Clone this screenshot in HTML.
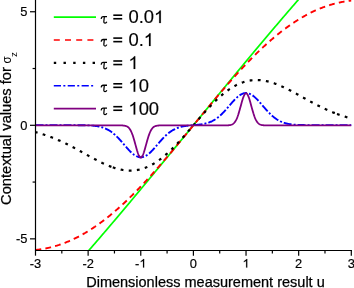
<!DOCTYPE html>
<html><head><meta charset="utf-8"><style>
html,body{margin:0;padding:0;background:#fff;}
body{width:354px;height:288px;overflow:hidden;font-family:"Liberation Sans",sans-serif;}
svg{display:block;will-change:transform;}
text{font-family:"Liberation Sans",sans-serif;fill:#000;}
.ser{font-family:"Liberation Serif",serif;}
</style></head><body>
<svg width="354" height="288" viewBox="0 0 354 288">
<rect width="354" height="288" fill="#fff"/>
<defs><clipPath id="c"><rect x="35.5" y="0" width="316.3" height="250.9"/></clipPath></defs>
<g clip-path="url(#c)" fill="none" stroke-width="2">
<path d="M35.50,309.55 L36.03,308.99 L36.55,308.43 L37.08,307.87 L37.61,307.31 L38.13,306.75 L38.66,306.18 L39.18,305.62 L39.71,305.06 L40.24,304.50 L40.76,303.93 L41.29,303.37 L41.82,302.80 L42.34,302.24 L42.87,301.67 L43.39,301.10 L43.92,300.54 L44.45,299.97 L44.97,299.40 L45.50,298.83 L46.03,298.26 L46.55,297.69 L47.08,297.12 L47.61,296.55 L48.13,295.98 L48.66,295.41 L49.18,294.84 L49.71,294.26 L50.24,293.69 L50.76,293.12 L51.29,292.54 L51.82,291.97 L52.34,291.39 L52.87,290.82 L53.40,290.24 L53.92,289.66 L54.45,289.09 L54.97,288.51 L55.50,287.93 L56.03,287.35 L56.55,286.77 L57.08,286.19 L57.61,285.61 L58.13,285.03 L58.66,284.45 L59.19,283.87 L59.71,283.29 L60.24,282.71 L60.76,282.13 L61.29,281.54 L61.82,280.96 L62.34,280.37 L62.87,279.79 L63.40,279.21 L63.92,278.62 L64.45,278.03 L64.97,277.45 L65.50,276.86 L66.03,276.27 L66.55,275.69 L67.08,275.10 L67.61,274.51 L68.13,273.92 L68.66,273.33 L69.19,272.74 L69.71,272.15 L70.24,271.56 L70.76,270.97 L71.29,270.38 L71.82,269.79 L72.34,269.19 L72.87,268.60 L73.40,268.01 L73.92,267.41 L74.45,266.82 L74.97,266.22 L75.50,265.63 L76.03,265.03 L76.55,264.44 L77.08,263.84 L77.61,263.25 L78.13,262.65 L78.66,262.05 L79.19,261.45 L79.71,260.86 L80.24,260.26 L80.76,259.66 L81.29,259.06 L81.82,258.46 L82.34,257.86 L82.87,257.26 L83.40,256.66 L83.92,256.06 L84.45,255.45 L84.98,254.85 L85.50,254.25 L86.03,253.65 L86.55,253.04 L87.08,252.44 L87.61,251.84 L88.13,251.23 L88.66,250.63 L89.19,250.02 L89.71,249.42 L90.24,248.81 L90.77,248.20 L91.29,247.60 L91.82,246.99 L92.34,246.38 L92.87,245.78 L93.40,245.17 L93.92,244.56 L94.45,243.95 L94.98,243.34 L95.50,242.73 L96.03,242.12 L96.55,241.51 L97.08,240.90 L97.61,240.29 L98.13,239.68 L98.66,239.07 L99.19,238.46 L99.71,237.84 L100.24,237.23 L100.77,236.62 L101.29,236.01 L101.82,235.39 L102.34,234.78 L102.87,234.16 L103.40,233.55 L103.92,232.94 L104.45,232.32 L104.98,231.70 L105.50,231.09 L106.03,230.47 L106.56,229.86 L107.08,229.24 L107.61,228.62 L108.13,228.01 L108.66,227.39 L109.19,226.77 L109.71,226.15 L110.24,225.53 L110.77,224.92 L111.29,224.30 L111.82,223.68 L112.34,223.06 L112.87,222.44 L113.40,221.82 L113.92,221.20 L114.45,220.58 L114.98,219.95 L115.50,219.33 L116.03,218.71 L116.56,218.09 L117.08,217.47 L117.61,216.85 L118.13,216.22 L118.66,215.60 L119.19,214.98 L119.71,214.35 L120.24,213.73 L120.77,213.10 L121.29,212.48 L121.82,211.86 L122.35,211.23 L122.87,210.61 L123.40,209.98 L123.92,209.35 L124.45,208.73 L124.98,208.10 L125.50,207.48 L126.03,206.85 L126.56,206.22 L127.08,205.60 L127.61,204.97 L128.13,204.34 L128.66,203.71 L129.19,203.09 L129.71,202.46 L130.24,201.83 L130.77,201.20 L131.29,200.57 L131.82,199.94 L132.35,199.31 L132.87,198.68 L133.40,198.05 L133.92,197.42 L134.45,196.79 L134.98,196.16 L135.50,195.53 L136.03,194.90 L136.56,194.27 L137.08,193.64 L137.61,193.01 L138.13,192.38 L138.66,191.74 L139.19,191.11 L139.71,190.48 L140.24,189.85 L140.77,189.21 L141.29,188.58 L141.82,187.95 L142.35,187.31 L142.87,186.68 L143.40,186.05 L143.92,185.41 L144.45,184.78 L144.98,184.15 L145.50,183.51 L146.03,182.88 L146.56,182.24 L147.08,181.61 L147.61,180.97 L148.14,180.34 L148.66,179.70 L149.19,179.07 L149.71,178.43 L150.24,177.80 L150.77,177.16 L151.29,176.52 L151.82,175.89 L152.35,175.25 L152.87,174.61 L153.40,173.98 L153.93,173.34 L154.45,172.70 L154.98,172.07 L155.50,171.43 L156.03,170.79 L156.56,170.15 L157.08,169.52 L157.61,168.88 L158.14,168.24 L158.66,167.60 L159.19,166.96 L159.71,166.33 L160.24,165.69 L160.77,165.05 L161.29,164.41 L161.82,163.77 L162.35,163.13 L162.87,162.49 L163.40,161.85 L163.93,161.21 L164.45,160.58 L164.98,159.94 L165.50,159.30 L166.03,158.66 L166.56,158.02 L167.08,157.38 L167.61,156.74 L168.14,156.10 L168.66,155.46 L169.19,154.82 L169.72,154.18 L170.24,153.54 L170.77,152.89 L171.29,152.25 L171.82,151.61 L172.35,150.97 L172.87,150.33 L173.40,149.69 L173.93,149.05 L174.45,148.41 L174.98,147.77 L175.50,147.13 L176.03,146.49 L176.56,145.84 L177.08,145.20 L177.61,144.56 L178.14,143.92 L178.66,143.28 L179.19,142.64 L179.72,142.00 L180.24,141.35 L180.77,140.71 L181.29,140.07 L181.82,139.43 L182.35,138.79 L182.87,138.14 L183.40,137.50 L183.93,136.86 L184.45,136.22 L184.98,135.58 L185.50,134.93 L186.03,134.29 L186.56,133.65 L187.08,133.01 L187.61,132.37 L188.14,131.72 L188.66,131.08 L189.19,130.44 L189.72,129.80 L190.24,129.15 L190.77,128.51 L191.29,127.87 L191.82,127.23 L192.35,126.58 L192.87,125.94 L193.40,125.30 L193.93,124.66 L194.45,124.02 L194.98,123.37 L195.51,122.73 L196.03,122.09 L196.56,121.45 L197.08,120.80 L197.61,120.16 L198.14,119.52 L198.66,118.88 L199.19,118.23 L199.72,117.59 L200.24,116.95 L200.77,116.31 L201.29,115.67 L201.82,115.02 L202.35,114.38 L202.87,113.74 L203.40,113.10 L203.93,112.46 L204.45,111.81 L204.98,111.17 L205.51,110.53 L206.03,109.89 L206.56,109.25 L207.08,108.60 L207.61,107.96 L208.14,107.32 L208.66,106.68 L209.19,106.04 L209.72,105.40 L210.24,104.76 L210.77,104.11 L211.30,103.47 L211.82,102.83 L212.35,102.19 L212.87,101.55 L213.40,100.91 L213.93,100.27 L214.45,99.63 L214.98,98.99 L215.51,98.35 L216.03,97.71 L216.56,97.06 L217.09,96.42 L217.61,95.78 L218.14,95.14 L218.66,94.50 L219.19,93.86 L219.72,93.22 L220.24,92.58 L220.77,91.94 L221.30,91.30 L221.82,90.66 L222.35,90.02 L222.87,89.39 L223.40,88.75 L223.93,88.11 L224.45,87.47 L224.98,86.83 L225.51,86.19 L226.03,85.55 L226.56,84.91 L227.09,84.27 L227.61,83.64 L228.14,83.00 L228.66,82.36 L229.19,81.72 L229.72,81.08 L230.24,80.45 L230.77,79.81 L231.30,79.17 L231.82,78.53 L232.35,77.90 L232.88,77.26 L233.40,76.62 L233.93,75.99 L234.45,75.35 L234.98,74.71 L235.51,74.08 L236.03,73.44 L236.56,72.80 L237.09,72.17 L237.61,71.53 L238.14,70.90 L238.66,70.26 L239.19,69.63 L239.72,68.99 L240.24,68.36 L240.77,67.72 L241.30,67.09 L241.82,66.45 L242.35,65.82 L242.88,65.19 L243.40,64.55 L243.93,63.92 L244.45,63.29 L244.98,62.65 L245.51,62.02 L246.03,61.39 L246.56,60.75 L247.09,60.12 L247.61,59.49 L248.14,58.86 L248.66,58.22 L249.19,57.59 L249.72,56.96 L250.24,56.33 L250.77,55.70 L251.30,55.07 L251.82,54.44 L252.35,53.81 L252.88,53.18 L253.40,52.55 L253.93,51.92 L254.45,51.29 L254.98,50.66 L255.51,50.03 L256.03,49.40 L256.56,48.77 L257.09,48.14 L257.61,47.51 L258.14,46.89 L258.67,46.26 L259.19,45.63 L259.72,45.00 L260.24,44.38 L260.77,43.75 L261.30,43.12 L261.82,42.50 L262.35,41.87 L262.88,41.25 L263.40,40.62 L263.93,39.99 L264.46,39.37 L264.98,38.74 L265.51,38.12 L266.03,37.50 L266.56,36.87 L267.09,36.25 L267.61,35.62 L268.14,35.00 L268.67,34.38 L269.19,33.75 L269.72,33.13 L270.24,32.51 L270.77,31.89 L271.30,31.27 L271.82,30.65 L272.35,30.02 L272.88,29.40 L273.40,28.78 L273.93,28.16 L274.46,27.54 L274.98,26.92 L275.51,26.30 L276.03,25.68 L276.56,25.07 L277.09,24.45 L277.61,23.83 L278.14,23.21 L278.67,22.59 L279.19,21.98 L279.72,21.36 L280.25,20.74 L280.77,20.13 L281.30,19.51 L281.82,18.90 L282.35,18.28 L282.88,17.66 L283.40,17.05 L283.93,16.44 L284.46,15.82 L284.98,15.21 L285.51,14.59 L286.03,13.98 L286.56,13.37 L287.09,12.76 L287.61,12.14 L288.14,11.53 L288.67,10.92 L289.19,10.31 L289.72,9.70 L290.25,9.09 L290.77,8.48 L291.30,7.87 L291.82,7.26 L292.35,6.65 L292.88,6.04 L293.40,5.43 L293.93,4.82 L294.46,4.22 L294.98,3.61 L295.51,3.00 L296.04,2.40 L296.56,1.79 L297.09,1.18 L297.61,0.58 L298.14,-0.03 L298.67,-0.63 L299.19,-1.24 L299.72,-1.84 L300.25,-2.44 L300.77,-3.05 L301.30,-3.65 L301.82,-4.25 L302.35,-4.85 L302.88,-5.46 L303.40,-6.06 L303.93,-6.66 L304.46,-7.26 L304.98,-7.86 L305.51,-8.46 L306.04,-9.06 L306.56,-9.66 L307.09,-10.26 L307.61,-10.85 L308.14,-11.45 L308.67,-12.05 L309.19,-12.65 L309.72,-13.24 L310.25,-13.84 L310.77,-14.43 L311.30,-15.03 L311.82,-15.62 L312.35,-16.22 L312.88,-16.81 L313.40,-17.41 L313.93,-18.00 L314.46,-18.59 L314.98,-19.19 L315.51,-19.78 L316.04,-20.37 L316.56,-20.96 L317.09,-21.55 L317.61,-22.14 L318.14,-22.73 L318.67,-23.32 L319.19,-23.91 L319.72,-24.50 L320.25,-25.09 L320.77,-25.67 L321.30,-26.26 L321.83,-26.85 L322.35,-27.43 L322.88,-28.02 L323.40,-28.61 L323.93,-29.19 L324.46,-29.77 L324.98,-30.36 L325.51,-30.94 L326.04,-31.53 L326.56,-32.11 L327.09,-32.69 L327.62,-33.27 L328.14,-33.85 L328.67,-34.43 L329.19,-35.01 L329.72,-35.59 L330.25,-36.17 L330.77,-36.75 L331.30,-37.33 L331.83,-37.91 L332.35,-38.49 L332.88,-39.06 L333.40,-39.64 L333.93,-40.22 L334.46,-40.79 L334.98,-41.37 L335.51,-41.94 L336.04,-42.52 L336.56,-43.09 L337.09,-43.66 L337.62,-44.24 L338.14,-44.81 L338.67,-45.38 L339.19,-45.95 L339.72,-46.52 L340.25,-47.09 L340.77,-47.66 L341.30,-48.23 L341.83,-48.80 L342.35,-49.37 L342.88,-49.94 L343.41,-50.50 L343.93,-51.07 L344.46,-51.64 L344.98,-52.20 L345.51,-52.77 L346.04,-53.33 L346.56,-53.90 L347.09,-54.46 L347.62,-55.02 L348.14,-55.58 L348.67,-56.15 L349.19,-56.71 L349.72,-57.27 L350.25,-57.83 L350.77,-58.39 L351.30,-58.95" stroke="#00ff00" stroke-width="1.7"/>
<path d="M35.50,249.97 L36.03,249.92 L36.55,249.86 L37.08,249.80 L37.61,249.73 L38.13,249.67 L38.66,249.60 L39.18,249.53 L39.71,249.46 L40.24,249.38 L40.76,249.30 L41.29,249.22 L41.82,249.14 L42.34,249.05 L42.87,248.96 L43.39,248.87 L43.92,248.78 L44.45,248.68 L44.97,248.58 L45.50,248.48 L46.03,248.37 L46.55,248.26 L47.08,248.15 L47.61,248.04 L48.13,247.92 L48.66,247.81 L49.18,247.68 L49.71,247.56 L50.24,247.43 L50.76,247.31 L51.29,247.17 L51.82,247.04 L52.34,246.90 L52.87,246.76 L53.40,246.62 L53.92,246.47 L54.45,246.33 L54.97,246.17 L55.50,246.02 L56.03,245.86 L56.55,245.71 L57.08,245.54 L57.61,245.38 L58.13,245.21 L58.66,245.04 L59.19,244.87 L59.71,244.69 L60.24,244.52 L60.76,244.33 L61.29,244.15 L61.82,243.96 L62.34,243.77 L62.87,243.58 L63.40,243.39 L63.92,243.19 L64.45,242.99 L64.97,242.79 L65.50,242.58 L66.03,242.37 L66.55,242.16 L67.08,241.95 L67.61,241.73 L68.13,241.51 L68.66,241.29 L69.19,241.06 L69.71,240.84 L70.24,240.61 L70.76,240.37 L71.29,240.14 L71.82,239.90 L72.34,239.66 L72.87,239.41 L73.40,239.17 L73.92,238.92 L74.45,238.66 L74.97,238.41 L75.50,238.15 L76.03,237.89 L76.55,237.63 L77.08,237.36 L77.61,237.09 L78.13,236.82 L78.66,236.54 L79.19,236.27 L79.71,235.99 L80.24,235.70 L80.76,235.42 L81.29,235.13 L81.82,234.84 L82.34,234.55 L82.87,234.25 L83.40,233.95 L83.92,233.65 L84.45,233.34 L84.98,233.04 L85.50,232.73 L86.03,232.42 L86.55,232.10 L87.08,231.78 L87.61,231.46 L88.13,231.14 L88.66,230.81 L89.19,230.48 L89.71,230.15 L90.24,229.82 L90.77,229.48 L91.29,229.14 L91.82,228.80 L92.34,228.46 L92.87,228.11 L93.40,227.76 L93.92,227.41 L94.45,227.05 L94.98,226.70 L95.50,226.33 L96.03,225.97 L96.55,225.61 L97.08,225.24 L97.61,224.87 L98.13,224.49 L98.66,224.12 L99.19,223.74 L99.71,223.36 L100.24,222.98 L100.77,222.59 L101.29,222.20 L101.82,221.81 L102.34,221.42 L102.87,221.02 L103.40,220.62 L103.92,220.22 L104.45,219.82 L104.98,219.41 L105.50,219.00 L106.03,218.59 L106.56,218.18 L107.08,217.76 L107.61,217.34 L108.13,216.92 L108.66,216.50 L109.19,216.07 L109.71,215.65 L110.24,215.22 L110.77,214.78 L111.29,214.35 L111.82,213.91 L112.34,213.47 L112.87,213.03 L113.40,212.58 L113.92,212.14 L114.45,211.69 L114.98,211.23 L115.50,210.78 L116.03,210.32 L116.56,209.86 L117.08,209.40 L117.61,208.94 L118.13,208.47 L118.66,208.01 L119.19,207.54 L119.71,207.06 L120.24,206.59 L120.77,206.11 L121.29,205.63 L121.82,205.15 L122.35,204.67 L122.87,204.18 L123.40,203.70 L123.92,203.21 L124.45,202.72 L124.98,202.22 L125.50,201.73 L126.03,201.23 L126.56,200.73 L127.08,200.22 L127.61,199.72 L128.13,199.21 L128.66,198.71 L129.19,198.19 L129.71,197.68 L130.24,197.17 L130.77,196.65 L131.29,196.13 L131.82,195.61 L132.35,195.09 L132.87,194.57 L133.40,194.04 L133.92,193.51 L134.45,192.98 L134.98,192.45 L135.50,191.92 L136.03,191.38 L136.56,190.84 L137.08,190.30 L137.61,189.76 L138.13,189.22 L138.66,188.67 L139.19,188.13 L139.71,187.58 L140.24,187.03 L140.77,186.48 L141.29,185.92 L141.82,185.37 L142.35,184.81 L142.87,184.25 L143.40,183.69 L143.92,183.13 L144.45,182.57 L144.98,182.00 L145.50,181.44 L146.03,180.87 L146.56,180.30 L147.08,179.73 L147.61,179.15 L148.14,178.58 L148.66,178.00 L149.19,177.43 L149.71,176.85 L150.24,176.27 L150.77,175.68 L151.29,175.10 L151.82,174.52 L152.35,173.93 L152.87,173.34 L153.40,172.75 L153.93,172.16 L154.45,171.57 L154.98,170.98 L155.50,170.38 L156.03,169.79 L156.56,169.19 L157.08,168.59 L157.61,168.00 L158.14,167.40 L158.66,166.79 L159.19,166.19 L159.71,165.59 L160.24,164.98 L160.77,164.38 L161.29,163.77 L161.82,163.16 L162.35,162.55 L162.87,161.94 L163.40,161.33 L163.93,160.71 L164.45,160.10 L164.98,159.49 L165.50,158.87 L166.03,158.25 L166.56,157.64 L167.08,157.02 L167.61,156.40 L168.14,155.78 L168.66,155.16 L169.19,154.53 L169.72,153.91 L170.24,153.29 L170.77,152.66 L171.29,152.04 L171.82,151.41 L172.35,150.78 L172.87,150.16 L173.40,149.53 L173.93,148.90 L174.45,148.27 L174.98,147.64 L175.50,147.01 L176.03,146.38 L176.56,145.74 L177.08,145.11 L177.61,144.48 L178.14,143.84 L178.66,143.21 L179.19,142.57 L179.72,141.94 L180.24,141.30 L180.77,140.67 L181.29,140.03 L181.82,139.39 L182.35,138.75 L182.87,138.12 L183.40,137.48 L183.93,136.84 L184.45,136.20 L184.98,135.56 L185.50,134.92 L186.03,134.28 L186.56,133.64 L187.08,133.00 L187.61,132.36 L188.14,131.72 L188.66,131.08 L189.19,130.43 L189.72,129.79 L190.24,129.15 L190.77,128.51 L191.29,127.87 L191.82,127.23 L192.35,126.58 L192.87,125.94 L193.40,125.30 L193.93,124.66 L194.45,124.02 L194.98,123.37 L195.51,122.73 L196.03,122.09 L196.56,121.45 L197.08,120.81 L197.61,120.17 L198.14,119.52 L198.66,118.88 L199.19,118.24 L199.72,117.60 L200.24,116.96 L200.77,116.32 L201.29,115.68 L201.82,115.04 L202.35,114.40 L202.87,113.76 L203.40,113.12 L203.93,112.48 L204.45,111.85 L204.98,111.21 L205.51,110.57 L206.03,109.93 L206.56,109.30 L207.08,108.66 L207.61,108.03 L208.14,107.39 L208.66,106.76 L209.19,106.12 L209.72,105.49 L210.24,104.86 L210.77,104.22 L211.30,103.59 L211.82,102.96 L212.35,102.33 L212.87,101.70 L213.40,101.07 L213.93,100.44 L214.45,99.82 L214.98,99.19 L215.51,98.56 L216.03,97.94 L216.56,97.31 L217.09,96.69 L217.61,96.07 L218.14,95.44 L218.66,94.82 L219.19,94.20 L219.72,93.58 L220.24,92.96 L220.77,92.35 L221.30,91.73 L221.82,91.11 L222.35,90.50 L222.87,89.89 L223.40,89.27 L223.93,88.66 L224.45,88.05 L224.98,87.44 L225.51,86.83 L226.03,86.22 L226.56,85.62 L227.09,85.01 L227.61,84.41 L228.14,83.81 L228.66,83.20 L229.19,82.60 L229.72,82.01 L230.24,81.41 L230.77,80.81 L231.30,80.22 L231.82,79.62 L232.35,79.03 L232.88,78.44 L233.40,77.85 L233.93,77.26 L234.45,76.67 L234.98,76.08 L235.51,75.50 L236.03,74.92 L236.56,74.33 L237.09,73.75 L237.61,73.17 L238.14,72.60 L238.66,72.02 L239.19,71.45 L239.72,70.87 L240.24,70.30 L240.77,69.73 L241.30,69.16 L241.82,68.60 L242.35,68.03 L242.88,67.47 L243.40,66.91 L243.93,66.35 L244.45,65.79 L244.98,65.23 L245.51,64.68 L246.03,64.12 L246.56,63.57 L247.09,63.02 L247.61,62.47 L248.14,61.93 L248.66,61.38 L249.19,60.84 L249.72,60.30 L250.24,59.76 L250.77,59.22 L251.30,58.68 L251.82,58.15 L252.35,57.62 L252.88,57.09 L253.40,56.56 L253.93,56.03 L254.45,55.51 L254.98,54.99 L255.51,54.47 L256.03,53.95 L256.56,53.43 L257.09,52.92 L257.61,52.41 L258.14,51.89 L258.67,51.39 L259.19,50.88 L259.72,50.38 L260.24,49.87 L260.77,49.37 L261.30,48.87 L261.82,48.38 L262.35,47.88 L262.88,47.39 L263.40,46.90 L263.93,46.42 L264.46,45.93 L264.98,45.45 L265.51,44.97 L266.03,44.49 L266.56,44.01 L267.09,43.54 L267.61,43.06 L268.14,42.59 L268.67,42.13 L269.19,41.66 L269.72,41.20 L270.24,40.74 L270.77,40.28 L271.30,39.82 L271.82,39.37 L272.35,38.91 L272.88,38.46 L273.40,38.02 L273.93,37.57 L274.46,37.13 L274.98,36.69 L275.51,36.25 L276.03,35.82 L276.56,35.38 L277.09,34.95 L277.61,34.53 L278.14,34.10 L278.67,33.68 L279.19,33.26 L279.72,32.84 L280.25,32.42 L280.77,32.01 L281.30,31.60 L281.82,31.19 L282.35,30.78 L282.88,30.38 L283.40,29.98 L283.93,29.58 L284.46,29.18 L284.98,28.79 L285.51,28.40 L286.03,28.01 L286.56,27.62 L287.09,27.24 L287.61,26.86 L288.14,26.48 L288.67,26.11 L289.19,25.73 L289.72,25.36 L290.25,24.99 L290.77,24.63 L291.30,24.27 L291.82,23.90 L292.35,23.55 L292.88,23.19 L293.40,22.84 L293.93,22.49 L294.46,22.14 L294.98,21.80 L295.51,21.46 L296.04,21.12 L296.56,20.78 L297.09,20.45 L297.61,20.12 L298.14,19.79 L298.67,19.46 L299.19,19.14 L299.72,18.82 L300.25,18.50 L300.77,18.18 L301.30,17.87 L301.82,17.56 L302.35,17.26 L302.88,16.95 L303.40,16.65 L303.93,16.35 L304.46,16.05 L304.98,15.76 L305.51,15.47 L306.04,15.18 L306.56,14.90 L307.09,14.61 L307.61,14.33 L308.14,14.06 L308.67,13.78 L309.19,13.51 L309.72,13.24 L310.25,12.97 L310.77,12.71 L311.30,12.45 L311.82,12.19 L312.35,11.94 L312.88,11.68 L313.40,11.43 L313.93,11.19 L314.46,10.94 L314.98,10.70 L315.51,10.46 L316.04,10.23 L316.56,9.99 L317.09,9.76 L317.61,9.54 L318.14,9.31 L318.67,9.09 L319.19,8.87 L319.72,8.65 L320.25,8.44 L320.77,8.23 L321.30,8.02 L321.83,7.81 L322.35,7.61 L322.88,7.41 L323.40,7.21 L323.93,7.02 L324.46,6.83 L324.98,6.64 L325.51,6.45 L326.04,6.27 L326.56,6.08 L327.09,5.91 L327.62,5.73 L328.14,5.56 L328.67,5.39 L329.19,5.22 L329.72,5.06 L330.25,4.89 L330.77,4.74 L331.30,4.58 L331.83,4.43 L332.35,4.27 L332.88,4.13 L333.40,3.98 L333.93,3.84 L334.46,3.70 L334.98,3.56 L335.51,3.43 L336.04,3.29 L336.56,3.17 L337.09,3.04 L337.62,2.92 L338.14,2.79 L338.67,2.68 L339.19,2.56 L339.72,2.45 L340.25,2.34 L340.77,2.23 L341.30,2.12 L341.83,2.02 L342.35,1.92 L342.88,1.82 L343.41,1.73 L343.93,1.64 L344.46,1.55 L344.98,1.46 L345.51,1.38 L346.04,1.30 L346.56,1.22 L347.09,1.14 L347.62,1.07 L348.14,1.00 L348.67,0.93 L349.19,0.87 L349.72,0.80 L350.25,0.74 L350.77,0.68 L351.30,0.63" stroke="#ff0000" stroke-width="1.9" stroke-dasharray="5.8,4.2"/>
<path d="M34.83,131.99 L35.35,132.12 L35.88,132.26 L36.40,132.40 L36.92,132.54 L37.45,132.68 L37.97,132.82 L38.49,132.97 L39.02,133.12 L39.54,133.27 L40.06,133.42 L40.59,133.58 L41.11,133.74 L41.63,133.89 L42.16,134.06 L42.68,134.22 L43.20,134.39 L43.73,134.55 L44.25,134.72 L44.77,134.90 L45.30,135.07 L45.82,135.25 L46.34,135.43 L46.87,135.61 L47.39,135.79 L47.91,135.98 L48.44,136.16 L48.96,136.35 L49.48,136.54 L50.01,136.74 L50.53,136.93 L51.05,137.13 L51.58,137.33 L52.10,137.54 L52.62,137.74 L53.15,137.95 L53.67,138.16 L54.19,138.37 L54.71,138.58 L55.24,138.80 L55.76,139.02 L56.28,139.23 L56.81,139.46 L57.33,139.68 L57.85,139.91 L58.38,140.14 L58.90,140.37 L59.42,140.60 L59.95,140.83 L60.47,141.07 L60.99,141.31 L61.52,141.55 L62.04,141.79 L62.56,142.03 L63.09,142.28 L63.61,142.53 L64.13,142.77 L64.66,143.03 L65.18,143.28 L65.70,143.53 L66.23,143.79 L66.75,144.05 L67.27,144.31 L67.80,144.57 L68.32,144.83 L68.84,145.10 L69.37,145.36 L69.89,145.63 L70.41,145.90 L70.94,146.17 L71.46,146.44 L71.98,146.72 L72.51,146.99 L73.03,147.27 L73.55,147.54 L74.08,147.82 L74.60,148.10 L75.12,148.38 L75.65,148.66 L76.17,148.95 L76.69,149.23 L77.22,149.51 L77.74,149.80 L78.26,150.09 L78.79,150.37 L79.31,150.66 L79.83,150.95 L80.36,151.24 L80.88,151.53 L81.40,151.82 L81.93,152.11 L82.45,152.40 L82.97,152.69 L83.50,152.98 L84.02,153.27 L84.54,153.56 L85.07,153.85 L85.59,154.14 L86.11,154.43 L86.64,154.72 L87.16,155.01 L87.68,155.30 L88.21,155.59 L88.73,155.88 L89.25,156.17 L89.78,156.46 L90.30,156.75 L90.82,157.03 L91.35,157.32 L91.87,157.60 L92.39,157.89 L92.92,158.17 L93.44,158.45 L93.96,158.73 L94.48,159.01 L95.01,159.29 L95.53,159.57 L96.05,159.84 L96.58,160.12 L97.10,160.39 L97.62,160.66 L98.15,160.93 L98.67,161.19 L99.19,161.46 L99.72,161.72 L100.24,161.98 L100.76,162.24 L101.29,162.49 L101.81,162.74 L102.33,163.00 L102.86,163.24 L103.38,163.49 L103.90,163.73 L104.43,163.97 L104.95,164.21 L105.47,164.44 L106.00,164.67 L106.52,164.90 L107.04,165.13 L107.57,165.35 L108.09,165.56 L108.61,165.78 L109.14,165.99 L109.66,166.20 L110.18,166.40 L110.71,166.60 L111.23,166.79 L111.75,166.99 L112.28,167.17 L112.80,167.36 M112.80,167.36 L113.36,167.55 L113.92,167.73 L114.49,167.92 L115.05,168.09 L115.61,168.27 L116.17,168.43 L116.73,168.59 L117.30,168.75 L117.86,168.90 L118.42,169.04 L118.98,169.18 L119.54,169.31 L120.10,169.44 L120.67,169.56 L121.23,169.67 L121.79,169.78 L122.35,169.88 L122.91,169.97 L123.48,170.06 L124.04,170.14 L124.60,170.22 L125.16,170.29 L125.72,170.35 L126.29,170.40 L126.85,170.45 L127.41,170.49 L127.97,170.52 L128.53,170.55 L129.10,170.57 L129.66,170.58 L130.22,170.58 L130.78,170.58 L131.34,170.57 L131.90,170.55 L132.47,170.53 L133.03,170.49 L133.59,170.45 L134.15,170.40 L134.71,170.35 L135.28,170.28 L135.84,170.21 L136.40,170.13 L136.96,170.04 L137.52,169.94 L138.09,169.84 L138.65,169.73 L139.21,169.61 L139.77,169.48 L140.33,169.34 L140.90,169.20 L141.46,169.05 L142.02,168.88 L142.58,168.72 L143.14,168.54 L143.70,168.35 L144.27,168.16 L144.83,167.96 L145.39,167.75 L145.95,167.53 L146.51,167.30 L147.08,167.07 L147.64,166.82 L148.20,166.57 L148.76,166.31 L149.32,166.05 L149.89,165.77 L150.45,165.49 L151.01,165.20 L151.57,164.90 L152.13,164.59 L152.70,164.27 L153.26,163.95 L153.82,163.62 L154.38,163.28 L154.94,162.93 L155.50,162.58 L156.07,162.22 L156.63,161.85 L157.19,161.47 L157.75,161.08 L158.31,160.69 L158.88,160.29 L159.44,159.88 L160.00,159.47 L160.56,159.05 L161.12,158.62 L161.69,158.18 L162.25,157.74 L162.81,157.29 L163.37,156.83 L163.93,156.37 L164.50,155.89 L165.06,155.42 L165.62,154.93 L166.18,154.44 L166.74,153.95 L167.30,153.44 L167.87,152.94 L168.43,152.42 L168.99,151.90 L169.55,151.37 L170.11,150.84 L170.68,150.30 L171.24,149.76 L171.80,149.21 L172.36,148.65 L172.92,148.09 L173.49,147.53 L174.05,146.96 L174.61,146.39 L175.17,145.81 L175.73,145.22 L176.30,144.64 L176.86,144.04 L177.42,143.45 L177.98,142.85 L178.54,142.24 L179.10,141.63 L179.67,141.02 L180.23,140.40 L180.79,139.79 L181.35,139.16 L181.91,138.54 L182.48,137.91 L183.04,137.28 L183.60,136.64 L184.16,136.01 L184.72,135.37 L185.29,134.73 L185.85,134.08 L186.41,133.44 L186.97,132.79 L187.53,132.14 L188.10,131.49 L188.66,130.84 L189.22,130.19 L189.78,129.53 L190.34,128.88 L190.90,128.22 L191.47,127.56 L192.03,126.91 L192.59,126.25 L193.15,125.59 L193.71,124.93 L194.28,124.27 L194.84,123.62 L195.40,122.96 L195.96,122.30 L196.52,121.65 L197.09,120.99 L197.65,120.34 L198.21,119.68 L198.77,119.03 L199.33,118.38 L199.90,117.73 L200.46,117.09 L201.02,116.44 L201.58,115.80 L202.14,115.16 L202.70,114.52 L203.27,113.88 L203.83,113.25 L204.39,112.62 L204.95,111.99 L205.51,111.36 L206.08,110.74 L206.64,110.12 L207.20,109.51 L207.76,108.90 L208.32,108.29 L208.89,107.68 L209.45,107.08 L210.01,106.49 L210.57,105.89 L211.13,105.31 L211.70,104.72 L212.26,104.15 L212.82,103.57 L213.38,103.00 L213.94,102.44 L214.50,101.88 L215.07,101.33 L215.63,100.78 L216.19,100.23 L216.75,99.70 L217.31,99.16 L217.88,98.64 L218.44,98.12 L219.00,97.60 L219.56,97.10 L220.12,96.59 L220.69,96.10 L221.25,95.61 L221.81,95.13 L222.37,94.65 L222.93,94.18 L223.50,93.72 L224.06,93.26 L224.62,92.81 L225.18,92.37 L225.74,91.93 L226.30,91.50 L226.87,91.08 L227.43,90.67 L227.99,90.26 L228.55,89.86 L229.11,89.47 L229.68,89.09 L230.24,88.71 L230.80,88.34 L231.36,87.98 L231.92,87.62 L232.49,87.28 L233.05,86.94 L233.61,86.61 L234.17,86.29 L234.73,85.97 L235.30,85.67 L235.86,85.37 L236.42,85.08 L236.98,84.79 L237.54,84.52 L238.10,84.25 L238.67,84.00 L239.23,83.75 L239.79,83.50 L240.35,83.27 L240.91,83.04 L241.48,82.83 L242.04,82.62 L242.60,82.42 L243.16,82.22 L243.72,82.04 L244.29,81.86 L244.85,81.70 L245.41,81.54 L245.97,81.38 L246.53,81.24 L247.10,81.11 L247.66,80.98 L248.22,80.86 L248.78,80.75 L249.34,80.64 L249.90,80.55 L250.47,80.46 L251.03,80.38 L251.59,80.31 L252.15,80.25 L252.71,80.19 L253.28,80.14 L253.84,80.10 L254.40,80.07 L254.96,80.05 L255.52,80.03 L256.09,80.02 L256.65,80.02 L257.21,80.02 L257.77,80.03 L258.33,80.05 L258.90,80.08 L259.46,80.11 L260.02,80.16 L260.58,80.20 L261.14,80.26 L261.70,80.32 L262.27,80.39 L262.83,80.47 L263.39,80.55 L263.95,80.64 L264.51,80.73 L265.08,80.83 L265.64,80.94 L266.20,81.06 L266.76,81.18 L267.32,81.30 L267.89,81.44 L268.45,81.58 L269.01,81.72 L269.57,81.87 L270.13,82.03 L270.70,82.19 L271.26,82.35 L271.82,82.53 L272.38,82.70 L272.94,82.89 L273.50,83.07 L274.07,83.27 L274.63,83.46 L275.19,83.67 L275.75,83.87 L276.31,84.09 L276.88,84.30 L277.44,84.52 L278.00,84.75 L278.56,84.98 L279.12,85.21 L279.69,85.44 L280.25,85.69 L280.81,85.93 L281.37,86.18 L281.93,86.43 L282.50,86.68 L283.06,86.94 L283.62,87.20 L284.18,87.47 L284.74,87.74 L285.30,88.01 L285.87,88.28 L286.43,88.56 L286.99,88.84 L287.55,89.12 L288.11,89.40 L288.68,89.69 L289.24,89.98 L289.80,90.27 L290.36,90.56 L290.92,90.85 L291.49,91.15 L292.05,91.45 L292.61,91.74 L293.17,92.05 L293.73,92.35 L294.30,92.65 L294.86,92.96 L295.42,93.26 L295.98,93.57 L296.54,93.88 L297.10,94.19 L297.67,94.50 L298.23,94.81 L298.79,95.12 L299.35,95.43 L299.91,95.74 L300.48,96.05 L301.04,96.36 L301.60,96.68 L302.16,96.99 L302.72,97.30 L303.29,97.61 L303.85,97.93 L304.41,98.24 L304.97,98.55 L305.53,98.86 L306.10,99.17 L306.66,99.48 L307.22,99.79 L307.78,100.10 L308.34,100.41 L308.90,100.72 L309.47,101.02 L310.03,101.33 L310.59,101.63 L311.15,101.94 L311.71,102.24 L312.28,102.54 L312.84,102.84 L313.40,103.14 L313.96,103.43 L314.52,103.73 L315.09,104.02 L315.65,104.32 L316.21,104.61 L316.77,104.90 L317.33,105.19 L317.90,105.47 L318.46,105.76 L319.02,106.04 L319.58,106.32 L320.14,106.60 L320.70,106.87 L321.27,107.15 L321.83,107.42 L322.39,107.69 L322.95,107.96 L323.51,108.23 L324.08,108.49 L324.64,108.76 L325.20,109.02 L325.76,109.27 L326.32,109.53 L326.89,109.78 L327.45,110.03 L328.01,110.28 L328.57,110.53 L329.13,110.77 L329.70,111.02 L330.26,111.26 L330.82,111.49 L331.38,111.73 L331.94,111.96 L332.50,112.19 L333.07,112.42 L333.63,112.64 L334.19,112.86 L334.75,113.08 L335.31,113.30 L335.88,113.52 L336.44,113.73 L337.00,113.94 M337.00,113.94 L337.37,114.07 L337.73,114.21 L338.10,114.34 L338.47,114.47 L338.83,114.61 L339.20,114.74 L339.57,114.86 L339.93,114.99 L340.30,115.12 L340.67,115.25 L341.03,115.37 L341.40,115.49 L341.77,115.62 L342.13,115.74 L342.50,115.86 L342.87,115.98 L343.23,116.10 L343.60,116.22 L343.97,116.33 L344.33,116.45 L344.70,116.56 L345.07,116.67 L345.43,116.79 L345.80,116.90 L346.17,117.01 L346.53,117.12 L346.90,117.22 L347.27,117.33 L347.63,117.44 L348.00,117.54 L348.37,117.65 L348.73,117.75 L349.10,117.85 L349.47,117.95 L349.83,118.05 L350.20,118.15 L350.57,118.25 L350.93,118.35 L351.30,118.44" stroke="#000" stroke-width="2.2" stroke-dasharray="2.8,5.36"/>
<path d="M35.50,125.30 L36.03,125.30 L36.55,125.30 L37.08,125.30 L37.61,125.30 L38.13,125.30 L38.66,125.30 L39.18,125.30 L39.71,125.30 L40.24,125.30 L40.76,125.30 L41.29,125.30 L41.82,125.30 L42.34,125.30 L42.87,125.30 L43.39,125.30 L43.92,125.30 L44.45,125.30 L44.97,125.30 L45.50,125.30 L46.03,125.30 L46.55,125.30 L47.08,125.30 L47.61,125.30 L48.13,125.30 L48.66,125.30 L49.18,125.30 L49.71,125.30 L50.24,125.30 L50.76,125.30 L51.29,125.30 L51.82,125.30 L52.34,125.30 L52.87,125.30 L53.40,125.30 L53.92,125.30 L54.45,125.30 L54.97,125.30 L55.50,125.30 L56.03,125.30 L56.55,125.30 L57.08,125.30 L57.61,125.30 L58.13,125.30 L58.66,125.30 L59.19,125.30 L59.71,125.30 L60.24,125.30 L60.76,125.30 L61.29,125.30 L61.82,125.30 L62.34,125.30 L62.87,125.30 L63.40,125.30 L63.92,125.30 L64.45,125.30 L64.97,125.30 L65.50,125.30 L66.03,125.30 L66.55,125.30 L67.08,125.30 L67.61,125.30 L68.13,125.30 L68.66,125.30 L69.19,125.30 L69.71,125.30 L70.24,125.30 L70.76,125.30 L71.29,125.31 L71.82,125.31 L72.34,125.31 L72.87,125.31 L73.40,125.31 L73.92,125.31 L74.45,125.31 L74.97,125.31 L75.50,125.31 L76.03,125.32 L76.55,125.32 L77.08,125.32 L77.61,125.32 L78.13,125.33 L78.66,125.33 L79.19,125.33 L79.71,125.34 L80.24,125.34 L80.76,125.35 L81.29,125.35 L81.82,125.36 L82.34,125.37 L82.87,125.38 L83.40,125.38 L83.92,125.39 L84.45,125.40 L84.98,125.42 L85.50,125.43 L86.03,125.44 L86.55,125.46 L87.08,125.48 L87.61,125.50 L88.13,125.52 L88.66,125.54 L89.19,125.56 L89.71,125.59 L90.24,125.62 L90.77,125.65 L91.29,125.69 L91.82,125.73 L92.34,125.77 L92.87,125.81 L93.40,125.86 L93.92,125.91 L94.45,125.97 L94.98,126.03 L95.50,126.10 L96.03,126.17 L96.55,126.24 L97.08,126.33 L97.61,126.41 L98.13,126.51 L98.66,126.61 L99.19,126.72 L99.71,126.83 L100.24,126.96 L100.77,127.09 L101.29,127.23 L101.82,127.38 L102.34,127.54 L102.87,127.70 L103.40,127.88 L103.92,128.07 L104.45,128.27 L104.98,128.48 L105.50,128.70 L106.03,128.94 L106.56,129.18 L107.08,129.44 L107.61,129.71 L108.13,130.00 L108.66,130.30 L109.19,130.61 L109.71,130.93 L110.24,131.27 L110.77,131.63 L111.29,132.00 L111.82,132.38 L112.34,132.77 L112.87,133.18 L113.40,133.61 L113.92,134.05 L114.45,134.50 L114.98,134.97 L115.50,135.45 L116.03,135.94 L116.56,136.45 L117.08,136.97 L117.61,137.50 L118.13,138.04 L118.66,138.60 L119.19,139.16 L119.71,139.73 L120.24,140.31 L120.77,140.90 L121.29,141.50 L121.82,142.10 L122.35,142.71 L122.87,143.32 L123.40,143.93 L123.92,144.55 L124.45,145.16 L124.98,145.78 L125.50,146.39 L126.03,147.00 L126.56,147.61 L127.08,148.21 L127.61,148.80 L128.13,149.38 L128.66,149.95 L129.19,150.51 L129.71,151.06 L130.24,151.60 L130.77,152.11 L131.29,152.61 L131.82,153.10 L132.35,153.56 L132.87,154.00 L133.40,154.42 L133.92,154.82 L134.45,155.19 L134.98,155.53 L135.50,155.85 L136.03,156.14 L136.56,156.41 L137.08,156.64 L137.61,156.85 L138.13,157.02 L138.66,157.16 L139.19,157.27 L139.71,157.35 L140.24,157.40 L140.77,157.42 L141.29,157.40 L141.82,157.35 L142.35,157.27 L142.87,157.16 L143.40,157.02 L143.92,156.85 L144.45,156.64 L144.98,156.41 L145.50,156.14 L146.03,155.85 L146.56,155.53 L147.08,155.19 L147.61,154.82 L148.14,154.42 L148.66,154.00 L149.19,153.56 L149.71,153.10 L150.24,152.61 L150.77,152.11 L151.29,151.60 L151.82,151.06 L152.35,150.51 L152.87,149.95 L153.40,149.38 L153.93,148.80 L154.45,148.21 L154.98,147.61 L155.50,147.00 L156.03,146.39 L156.56,145.78 L157.08,145.16 L157.61,144.55 L158.14,143.93 L158.66,143.32 L159.19,142.71 L159.71,142.10 L160.24,141.50 L160.77,140.90 L161.29,140.31 L161.82,139.73 L162.35,139.16 L162.87,138.60 L163.40,138.04 L163.93,137.50 L164.45,136.97 L164.98,136.45 L165.50,135.94 L166.03,135.45 L166.56,134.97 L167.08,134.50 L167.61,134.05 L168.14,133.61 L168.66,133.18 L169.19,132.77 L169.72,132.38 L170.24,131.99 L170.77,131.63 L171.29,131.27 L171.82,130.93 L172.35,130.61 L172.87,130.30 L173.40,130.00 L173.93,129.71 L174.45,129.44 L174.98,129.18 L175.50,128.93 L176.03,128.70 L176.56,128.48 L177.08,128.27 L177.61,128.06 L178.14,127.88 L178.66,127.70 L179.19,127.53 L179.72,127.37 L180.24,127.22 L180.77,127.07 L181.29,126.94 L181.82,126.81 L182.35,126.70 L182.87,126.59 L183.40,126.48 L183.93,126.38 L184.45,126.29 L184.98,126.20 L185.50,126.12 L186.03,126.05 L186.56,125.98 L187.08,125.91 L187.61,125.84 L188.14,125.78 L188.66,125.73 L189.19,125.67 L189.72,125.62 L190.24,125.57 L190.77,125.52 L191.29,125.48 L191.82,125.43 L192.35,125.39 L192.87,125.34 L193.40,125.30 L193.93,125.26 L194.45,125.21 L194.98,125.17 L195.51,125.12 L196.03,125.08 L196.56,125.03 L197.08,124.98 L197.61,124.93 L198.14,124.87 L198.66,124.82 L199.19,124.76 L199.72,124.69 L200.24,124.62 L200.77,124.55 L201.29,124.48 L201.82,124.40 L202.35,124.31 L202.87,124.22 L203.40,124.12 L203.93,124.01 L204.45,123.90 L204.98,123.79 L205.51,123.66 L206.03,123.53 L206.56,123.38 L207.08,123.23 L207.61,123.07 L208.14,122.90 L208.66,122.72 L209.19,122.54 L209.72,122.33 L210.24,122.12 L210.77,121.90 L211.30,121.67 L211.82,121.42 L212.35,121.16 L212.87,120.89 L213.40,120.60 L213.93,120.30 L214.45,119.99 L214.98,119.67 L215.51,119.33 L216.03,118.97 L216.56,118.61 L217.09,118.22 L217.61,117.83 L218.14,117.42 L218.66,116.99 L219.19,116.55 L219.72,116.10 L220.24,115.63 L220.77,115.15 L221.30,114.66 L221.82,114.15 L222.35,113.63 L222.87,113.10 L223.40,112.56 L223.93,112.00 L224.45,111.44 L224.98,110.87 L225.51,110.29 L226.03,109.70 L226.56,109.10 L227.09,108.50 L227.61,107.89 L228.14,107.28 L228.66,106.67 L229.19,106.05 L229.72,105.44 L230.24,104.82 L230.77,104.21 L231.30,103.60 L231.82,102.99 L232.35,102.39 L232.88,101.80 L233.40,101.22 L233.93,100.65 L234.45,100.09 L234.98,99.54 L235.51,99.00 L236.03,98.49 L236.56,97.99 L237.09,97.50 L237.61,97.04 L238.14,96.60 L238.66,96.18 L239.19,95.78 L239.72,95.41 L240.24,95.07 L240.77,94.75 L241.30,94.46 L241.82,94.19 L242.35,93.96 L242.88,93.75 L243.40,93.58 L243.93,93.44 L244.45,93.33 L244.98,93.25 L245.51,93.20 L246.03,93.18 L246.56,93.20 L247.09,93.25 L247.61,93.33 L248.14,93.44 L248.66,93.58 L249.19,93.75 L249.72,93.96 L250.24,94.19 L250.77,94.46 L251.30,94.75 L251.82,95.07 L252.35,95.41 L252.88,95.78 L253.40,96.18 L253.93,96.60 L254.45,97.04 L254.98,97.50 L255.51,97.99 L256.03,98.49 L256.56,99.00 L257.09,99.54 L257.61,100.09 L258.14,100.65 L258.67,101.22 L259.19,101.80 L259.72,102.39 L260.24,102.99 L260.77,103.60 L261.30,104.21 L261.82,104.82 L262.35,105.44 L262.88,106.05 L263.40,106.67 L263.93,107.28 L264.46,107.89 L264.98,108.50 L265.51,109.10 L266.03,109.70 L266.56,110.29 L267.09,110.87 L267.61,111.44 L268.14,112.00 L268.67,112.56 L269.19,113.10 L269.72,113.63 L270.24,114.15 L270.77,114.66 L271.30,115.15 L271.82,115.63 L272.35,116.10 L272.88,116.55 L273.40,116.99 L273.93,117.42 L274.46,117.83 L274.98,118.22 L275.51,118.60 L276.03,118.97 L276.56,119.33 L277.09,119.67 L277.61,119.99 L278.14,120.30 L278.67,120.60 L279.19,120.89 L279.72,121.16 L280.25,121.42 L280.77,121.66 L281.30,121.90 L281.82,122.12 L282.35,122.33 L282.88,122.53 L283.40,122.72 L283.93,122.90 L284.46,123.06 L284.98,123.22 L285.51,123.37 L286.03,123.51 L286.56,123.64 L287.09,123.77 L287.61,123.88 L288.14,123.99 L288.67,124.09 L289.19,124.19 L289.72,124.27 L290.25,124.36 L290.77,124.43 L291.30,124.50 L291.82,124.57 L292.35,124.63 L292.88,124.69 L293.40,124.74 L293.93,124.79 L294.46,124.83 L294.98,124.87 L295.51,124.91 L296.04,124.95 L296.56,124.98 L297.09,125.01 L297.61,125.04 L298.14,125.06 L298.67,125.08 L299.19,125.10 L299.72,125.12 L300.25,125.14 L300.77,125.16 L301.30,125.17 L301.82,125.18 L302.35,125.20 L302.88,125.21 L303.40,125.22 L303.93,125.22 L304.46,125.23 L304.98,125.24 L305.51,125.25 L306.04,125.25 L306.56,125.26 L307.09,125.26 L307.61,125.27 L308.14,125.27 L308.67,125.27 L309.19,125.28 L309.72,125.28 L310.25,125.28 L310.77,125.28 L311.30,125.29 L311.82,125.29 L312.35,125.29 L312.88,125.29 L313.40,125.29 L313.93,125.29 L314.46,125.29 L314.98,125.29 L315.51,125.29 L316.04,125.30 L316.56,125.30 L317.09,125.30 L317.61,125.30 L318.14,125.30 L318.67,125.30 L319.19,125.30 L319.72,125.30 L320.25,125.30 L320.77,125.30 L321.30,125.30 L321.83,125.30 L322.35,125.30 L322.88,125.30 L323.40,125.30 L323.93,125.30 L324.46,125.30 L324.98,125.30 L325.51,125.30 L326.04,125.30 L326.56,125.30 L327.09,125.30 L327.62,125.30 L328.14,125.30 L328.67,125.30 L329.19,125.30 L329.72,125.30 L330.25,125.30 L330.77,125.30 L331.30,125.30 L331.83,125.30 L332.35,125.30 L332.88,125.30 L333.40,125.30 L333.93,125.30 L334.46,125.30 L334.98,125.30 L335.51,125.30 L336.04,125.30 L336.56,125.30 L337.09,125.30 L337.62,125.30 L338.14,125.30 L338.67,125.30 L339.19,125.30 L339.72,125.30 L340.25,125.30 L340.77,125.30 L341.30,125.30 L341.83,125.30 L342.35,125.30 L342.88,125.30 L343.41,125.30 L343.93,125.30 L344.46,125.30 L344.98,125.30 L345.51,125.30 L346.04,125.30 L346.56,125.30 L347.09,125.30 L347.62,125.30 L348.14,125.30 L348.67,125.30 L349.19,125.30 L349.72,125.30 L350.25,125.30 L350.77,125.30 L351.30,125.30" transform="translate(0,-0.15)" stroke="#0000ff" stroke-width="1.9" stroke-dasharray="8,2,2,2"/>
<path d="M35.50,125.30 L36.03,125.30 L36.55,125.30 L37.08,125.30 L37.61,125.30 L38.13,125.30 L38.66,125.30 L39.18,125.30 L39.71,125.30 L40.24,125.30 L40.76,125.30 L41.29,125.30 L41.82,125.30 L42.34,125.30 L42.87,125.30 L43.39,125.30 L43.92,125.30 L44.45,125.30 L44.97,125.30 L45.50,125.30 L46.03,125.30 L46.55,125.30 L47.08,125.30 L47.61,125.30 L48.13,125.30 L48.66,125.30 L49.18,125.30 L49.71,125.30 L50.24,125.30 L50.76,125.30 L51.29,125.30 L51.82,125.30 L52.34,125.30 L52.87,125.30 L53.40,125.30 L53.92,125.30 L54.45,125.30 L54.97,125.30 L55.50,125.30 L56.03,125.30 L56.55,125.30 L57.08,125.30 L57.61,125.30 L58.13,125.30 L58.66,125.30 L59.19,125.30 L59.71,125.30 L60.24,125.30 L60.76,125.30 L61.29,125.30 L61.82,125.30 L62.34,125.30 L62.87,125.30 L63.40,125.30 L63.92,125.30 L64.45,125.30 L64.97,125.30 L65.50,125.30 L66.03,125.30 L66.55,125.30 L67.08,125.30 L67.61,125.30 L68.13,125.30 L68.66,125.30 L69.19,125.30 L69.71,125.30 L70.24,125.30 L70.76,125.30 L71.29,125.30 L71.82,125.30 L72.34,125.30 L72.87,125.30 L73.40,125.30 L73.92,125.30 L74.45,125.30 L74.97,125.30 L75.50,125.30 L76.03,125.30 L76.55,125.30 L77.08,125.30 L77.61,125.30 L78.13,125.30 L78.66,125.30 L79.19,125.30 L79.71,125.30 L80.24,125.30 L80.76,125.30 L81.29,125.30 L81.82,125.30 L82.34,125.30 L82.87,125.30 L83.40,125.30 L83.92,125.30 L84.45,125.30 L84.98,125.30 L85.50,125.30 L86.03,125.30 L86.55,125.30 L87.08,125.30 L87.61,125.30 L88.13,125.30 L88.66,125.30 L89.19,125.30 L89.71,125.30 L90.24,125.30 L90.77,125.30 L91.29,125.30 L91.82,125.30 L92.34,125.30 L92.87,125.30 L93.40,125.30 L93.92,125.30 L94.45,125.30 L94.98,125.30 L95.50,125.30 L96.03,125.30 L96.55,125.30 L97.08,125.30 L97.61,125.30 L98.13,125.30 L98.66,125.30 L99.19,125.30 L99.71,125.30 L100.24,125.30 L100.77,125.30 L101.29,125.30 L101.82,125.30 L102.34,125.30 L102.87,125.30 L103.40,125.30 L103.92,125.30 L104.45,125.30 L104.98,125.30 L105.50,125.30 L106.03,125.30 L106.56,125.30 L107.08,125.30 L107.61,125.30 L108.13,125.30 L108.66,125.30 L109.19,125.30 L109.71,125.30 L110.24,125.30 L110.77,125.30 L111.29,125.30 L111.82,125.30 L112.34,125.30 L112.87,125.30 L113.40,125.30 L113.92,125.30 L114.45,125.30 L114.98,125.30 L115.50,125.30 L116.03,125.30 L116.56,125.30 L117.08,125.30 L117.61,125.30 L118.13,125.30 L118.66,125.30 L119.19,125.31 L119.71,125.31 L120.24,125.32 L120.77,125.32 L121.29,125.33 L121.82,125.35 L122.35,125.37 L122.87,125.40 L123.40,125.44 L123.92,125.49 L124.45,125.56 L124.98,125.66 L125.50,125.78 L126.03,125.94 L126.56,126.14 L127.08,126.39 L127.61,126.71 L128.13,127.10 L128.66,127.58 L129.19,128.16 L129.71,128.84 L130.24,129.65 L130.77,130.58 L131.29,131.66 L131.82,132.87 L132.35,134.23 L132.87,135.73 L133.40,137.35 L133.92,139.10 L134.45,140.93 L134.98,142.84 L135.50,144.78 L136.03,146.72 L136.56,148.62 L137.08,150.44 L137.61,152.13 L138.13,153.64 L138.66,154.95 L139.19,156.00 L139.71,156.78 L140.24,157.26 L140.77,157.42 L141.29,157.26 L141.82,156.78 L142.35,156.00 L142.87,154.95 L143.40,153.64 L143.92,152.13 L144.45,150.44 L144.98,148.62 L145.50,146.72 L146.03,144.78 L146.56,142.84 L147.08,140.93 L147.61,139.10 L148.14,137.35 L148.66,135.73 L149.19,134.23 L149.71,132.87 L150.24,131.66 L150.77,130.58 L151.29,129.65 L151.82,128.84 L152.35,128.16 L152.87,127.58 L153.40,127.10 L153.93,126.71 L154.45,126.39 L154.98,126.14 L155.50,125.94 L156.03,125.78 L156.56,125.66 L157.08,125.56 L157.61,125.49 L158.14,125.44 L158.66,125.40 L159.19,125.37 L159.71,125.35 L160.24,125.33 L160.77,125.32 L161.29,125.32 L161.82,125.31 L162.35,125.31 L162.87,125.30 L163.40,125.30 L163.93,125.30 L164.45,125.30 L164.98,125.30 L165.50,125.30 L166.03,125.30 L166.56,125.30 L167.08,125.30 L167.61,125.30 L168.14,125.30 L168.66,125.30 L169.19,125.30 L169.72,125.30 L170.24,125.30 L170.77,125.30 L171.29,125.30 L171.82,125.30 L172.35,125.30 L172.87,125.30 L173.40,125.30 L173.93,125.30 L174.45,125.30 L174.98,125.30 L175.50,125.30 L176.03,125.30 L176.56,125.30 L177.08,125.30 L177.61,125.30 L178.14,125.30 L178.66,125.30 L179.19,125.30 L179.72,125.30 L180.24,125.30 L180.77,125.30 L181.29,125.30 L181.82,125.30 L182.35,125.30 L182.87,125.30 L183.40,125.30 L183.93,125.30 L184.45,125.30 L184.98,125.30 L185.50,125.30 L186.03,125.30 L186.56,125.30 L187.08,125.30 L187.61,125.30 L188.14,125.30 L188.66,125.30 L189.19,125.30 L189.72,125.30 L190.24,125.30 L190.77,125.30 L191.29,125.30 L191.82,125.30 L192.35,125.30 L192.87,125.30 L193.40,125.30 L193.93,125.30 L194.45,125.30 L194.98,125.30 L195.51,125.30 L196.03,125.30 L196.56,125.30 L197.08,125.30 L197.61,125.30 L198.14,125.30 L198.66,125.30 L199.19,125.30 L199.72,125.30 L200.24,125.30 L200.77,125.30 L201.29,125.30 L201.82,125.30 L202.35,125.30 L202.87,125.30 L203.40,125.30 L203.93,125.30 L204.45,125.30 L204.98,125.30 L205.51,125.30 L206.03,125.30 L206.56,125.30 L207.08,125.30 L207.61,125.30 L208.14,125.30 L208.66,125.30 L209.19,125.30 L209.72,125.30 L210.24,125.30 L210.77,125.30 L211.30,125.30 L211.82,125.30 L212.35,125.30 L212.87,125.30 L213.40,125.30 L213.93,125.30 L214.45,125.30 L214.98,125.30 L215.51,125.30 L216.03,125.30 L216.56,125.30 L217.09,125.30 L217.61,125.30 L218.14,125.30 L218.66,125.30 L219.19,125.30 L219.72,125.30 L220.24,125.30 L220.77,125.30 L221.30,125.30 L221.82,125.30 L222.35,125.30 L222.87,125.30 L223.40,125.30 L223.93,125.30 L224.45,125.29 L224.98,125.29 L225.51,125.28 L226.03,125.28 L226.56,125.27 L227.09,125.25 L227.61,125.23 L228.14,125.20 L228.66,125.16 L229.19,125.11 L229.72,125.04 L230.24,124.94 L230.77,124.82 L231.30,124.66 L231.82,124.46 L232.35,124.21 L232.88,123.89 L233.40,123.50 L233.93,123.02 L234.45,122.44 L234.98,121.76 L235.51,120.95 L236.03,120.02 L236.56,118.94 L237.09,117.73 L237.61,116.37 L238.14,114.87 L238.66,113.25 L239.19,111.50 L239.72,109.67 L240.24,107.76 L240.77,105.82 L241.30,103.88 L241.82,101.98 L242.35,100.16 L242.88,98.47 L243.40,96.96 L243.93,95.65 L244.45,94.60 L244.98,93.82 L245.51,93.34 L246.03,93.18 L246.56,93.34 L247.09,93.82 L247.61,94.60 L248.14,95.65 L248.66,96.96 L249.19,98.47 L249.72,100.16 L250.24,101.98 L250.77,103.88 L251.30,105.82 L251.82,107.76 L252.35,109.67 L252.88,111.50 L253.40,113.25 L253.93,114.87 L254.45,116.37 L254.98,117.73 L255.51,118.94 L256.03,120.02 L256.56,120.95 L257.09,121.76 L257.61,122.44 L258.14,123.02 L258.67,123.50 L259.19,123.89 L259.72,124.21 L260.24,124.46 L260.77,124.66 L261.30,124.82 L261.82,124.94 L262.35,125.04 L262.88,125.11 L263.40,125.16 L263.93,125.20 L264.46,125.23 L264.98,125.25 L265.51,125.27 L266.03,125.28 L266.56,125.28 L267.09,125.29 L267.61,125.29 L268.14,125.30 L268.67,125.30 L269.19,125.30 L269.72,125.30 L270.24,125.30 L270.77,125.30 L271.30,125.30 L271.82,125.30 L272.35,125.30 L272.88,125.30 L273.40,125.30 L273.93,125.30 L274.46,125.30 L274.98,125.30 L275.51,125.30 L276.03,125.30 L276.56,125.30 L277.09,125.30 L277.61,125.30 L278.14,125.30 L278.67,125.30 L279.19,125.30 L279.72,125.30 L280.25,125.30 L280.77,125.30 L281.30,125.30 L281.82,125.30 L282.35,125.30 L282.88,125.30 L283.40,125.30 L283.93,125.30 L284.46,125.30 L284.98,125.30 L285.51,125.30 L286.03,125.30 L286.56,125.30 L287.09,125.30 L287.61,125.30 L288.14,125.30 L288.67,125.30 L289.19,125.30 L289.72,125.30 L290.25,125.30 L290.77,125.30 L291.30,125.30 L291.82,125.30 L292.35,125.30 L292.88,125.30 L293.40,125.30 L293.93,125.30 L294.46,125.30 L294.98,125.30 L295.51,125.30 L296.04,125.30 L296.56,125.30 L297.09,125.30 L297.61,125.30 L298.14,125.30 L298.67,125.30 L299.19,125.30 L299.72,125.30 L300.25,125.30 L300.77,125.30 L301.30,125.30 L301.82,125.30 L302.35,125.30 L302.88,125.30 L303.40,125.30 L303.93,125.30 L304.46,125.30 L304.98,125.30 L305.51,125.30 L306.04,125.30 L306.56,125.30 L307.09,125.30 L307.61,125.30 L308.14,125.30 L308.67,125.30 L309.19,125.30 L309.72,125.30 L310.25,125.30 L310.77,125.30 L311.30,125.30 L311.82,125.30 L312.35,125.30 L312.88,125.30 L313.40,125.30 L313.93,125.30 L314.46,125.30 L314.98,125.30 L315.51,125.30 L316.04,125.30 L316.56,125.30 L317.09,125.30 L317.61,125.30 L318.14,125.30 L318.67,125.30 L319.19,125.30 L319.72,125.30 L320.25,125.30 L320.77,125.30 L321.30,125.30 L321.83,125.30 L322.35,125.30 L322.88,125.30 L323.40,125.30 L323.93,125.30 L324.46,125.30 L324.98,125.30 L325.51,125.30 L326.04,125.30 L326.56,125.30 L327.09,125.30 L327.62,125.30 L328.14,125.30 L328.67,125.30 L329.19,125.30 L329.72,125.30 L330.25,125.30 L330.77,125.30 L331.30,125.30 L331.83,125.30 L332.35,125.30 L332.88,125.30 L333.40,125.30 L333.93,125.30 L334.46,125.30 L334.98,125.30 L335.51,125.30 L336.04,125.30 L336.56,125.30 L337.09,125.30 L337.62,125.30 L338.14,125.30 L338.67,125.30 L339.19,125.30 L339.72,125.30 L340.25,125.30 L340.77,125.30 L341.30,125.30 L341.83,125.30 L342.35,125.30 L342.88,125.30 L343.41,125.30 L343.93,125.30 L344.46,125.30 L344.98,125.30 L345.51,125.30 L346.04,125.30 L346.56,125.30 L347.09,125.30 L347.62,125.30 L348.14,125.30 L348.67,125.30 L349.19,125.30 L349.72,125.30 L350.25,125.30 L350.77,125.30 L351.30,125.30" transform="translate(0,0.1)" stroke="#800080" stroke-width="1.8"/>
</g>
<!-- axes -->
<g stroke="#000" stroke-width="1.2" fill="none">
<line x1="35.5" y1="0" x2="35.5" y2="251"/>
<line x1="35" y1="250.5" x2="352" y2="250.5"/>
<line x1="35.50" y1="250.5" x2="35.50" y2="255.7"/>
<line x1="61.82" y1="250.5" x2="61.82" y2="253.5"/>
<line x1="88.13" y1="250.5" x2="88.13" y2="255.7"/>
<line x1="114.45" y1="250.5" x2="114.45" y2="253.5"/>
<line x1="140.77" y1="250.5" x2="140.77" y2="255.7"/>
<line x1="167.08" y1="250.5" x2="167.08" y2="253.5"/>
<line x1="193.40" y1="250.5" x2="193.40" y2="255.7"/>
<line x1="219.72" y1="250.5" x2="219.72" y2="253.5"/>
<line x1="246.03" y1="250.5" x2="246.03" y2="255.7"/>
<line x1="272.35" y1="250.5" x2="272.35" y2="253.5"/>
<line x1="298.67" y1="250.5" x2="298.67" y2="255.7"/>
<line x1="324.98" y1="250.5" x2="324.98" y2="253.5"/>
<line x1="351.30" y1="250.5" x2="351.30" y2="255.7"/>
<line x1="30" y1="238.85" x2="35.5" y2="238.85"/>
<line x1="32.6" y1="182.07" x2="35.5" y2="182.07"/>
<line x1="30" y1="125.30" x2="35.5" y2="125.30"/>
<line x1="32.6" y1="68.52" x2="35.5" y2="68.52"/>
<line x1="30" y1="11.75" x2="35.5" y2="11.75"/>
</g>
<text transform="translate(29.76,267.60) scale(1.0750,1)" font-size="12" stroke="#000" stroke-width="0.15">-</text>
<text transform="translate(34.06,267.60) scale(1.0750,1)" font-size="12" stroke="#000" stroke-width="0.15">3</text>
<text transform="translate(82.40,267.60) scale(1.0750,1)" font-size="12" stroke="#000" stroke-width="0.15">-</text>
<text transform="translate(86.69,267.60) scale(1.0750,1)" font-size="12" stroke="#000" stroke-width="0.15">2</text>
<text transform="translate(135.03,267.60) scale(1.0750,1)" font-size="12" stroke="#000" stroke-width="0.15">-</text>
<path d="M763 0H583V1147Q518 1085 412.5 1023T223 930V1104Q374 1175 487 1276T647 1472H763V0Z" transform="translate(139.33,267.60) scale(0.00630,-0.00586)" fill="#000" stroke="#000" stroke-width="25.6"/>
<text transform="translate(189.81,267.60) scale(1.0750,1)" font-size="12" stroke="#000" stroke-width="0.15">0</text>
<path d="M763 0H583V1147Q518 1085 412.5 1023T223 930V1104Q374 1175 487 1276T647 1472H763V0Z" transform="translate(242.45,267.60) scale(0.00630,-0.00586)" fill="#000" stroke="#000" stroke-width="25.6"/>
<text transform="translate(295.08,267.60) scale(1.0750,1)" font-size="12" stroke="#000" stroke-width="0.15">2</text>
<text transform="translate(347.71,267.60) scale(1.0750,1)" font-size="12" stroke="#000" stroke-width="0.15">3</text>
<text transform="translate(15.93,243.05) scale(1.0750,1)" font-size="12" stroke="#000" stroke-width="0.15">-</text>
<text transform="translate(20.23,243.05) scale(1.0750,1)" font-size="12" stroke="#000" stroke-width="0.15">5</text>
<text transform="translate(20.23,129.50) scale(1.0750,1)" font-size="12" stroke="#000" stroke-width="0.15">0</text>
<text transform="translate(20.23,15.95) scale(1.0750,1)" font-size="12" stroke="#000" stroke-width="0.15">5</text>
<text x="86.2" y="287.3" font-size="14.5" stroke="#000" stroke-width="0.25">Dimensionless measurement result u</text>
<text transform="translate(11.3,204.9) rotate(-90) scale(1.0126,1)" font-size="14.5" stroke="#000" stroke-width="0.25">Contextual values for</text>
<text transform="translate(11.3,63.6) rotate(-90) scale(0.8,0.86)" font-size="14.5">σ</text>
<text transform="translate(16.6,57) rotate(-90) scale(1.1,1)" font-size="9">z</text>
<line x1="53.8" y1="17.10" x2="96" y2="17.10" stroke="#00ff00" stroke-width="1.6"/>
<g transform="translate(100,17)" fill="none" stroke="#000" stroke-linecap="butt"><path d="M1.15,1.8 Q1.4,-0.4 2.9,-0.4 L7,-0.4" stroke-width="1.35"/><path d="M4.35,-0.5 L3.85,4.2 Q3.7,6.1 5.1,6.1 Q6.3,6.1 6.8,4.7" stroke-width="1.25"/></g>
<rect x="113.3" y="14.40" width="8.9" height="1.6"/><rect x="113.3" y="17.95" width="8.9" height="1.6"/>
<text transform="translate(128.40,23.10) scale(1.0455,1)" font-size="17.6" stroke="#000" stroke-width="0.15">0</text>
<text transform="translate(138.63,23.10) scale(1.0455,1)" font-size="17.6" stroke="#000" stroke-width="0.15">.</text>
<text transform="translate(143.75,23.10) scale(1.0455,1)" font-size="17.6" stroke="#000" stroke-width="0.15">0</text>
<path d="M763 0H583V1147Q518 1085 412.5 1023T223 930V1104Q374 1175 487 1276T647 1472H763V0Z" transform="translate(153.98,23.10) scale(0.00898,-0.00859)" fill="#000" stroke="#000" stroke-width="17.5"/>
<line x1="53.8" y1="40.00" x2="95.4" y2="40.00" stroke="#ff0000" stroke-width="1.6" stroke-dasharray="6,5.2"/>
<g transform="translate(100,39.9)" fill="none" stroke="#000" stroke-linecap="butt"><path d="M1.15,1.8 Q1.4,-0.4 2.9,-0.4 L7,-0.4" stroke-width="1.35"/><path d="M4.35,-0.5 L3.85,4.2 Q3.7,6.1 5.1,6.1 Q6.3,6.1 6.8,4.7" stroke-width="1.25"/></g>
<rect x="113.3" y="37.30" width="8.9" height="1.6"/><rect x="113.3" y="40.85" width="8.9" height="1.6"/>
<text transform="translate(128.40,46.00) scale(1.0455,1)" font-size="17.6" stroke="#000" stroke-width="0.15">0</text>
<text transform="translate(138.63,46.00) scale(1.0455,1)" font-size="17.6" stroke="#000" stroke-width="0.15">.</text>
<path d="M763 0H583V1147Q518 1085 412.5 1023T223 930V1104Q374 1175 487 1276T647 1472H763V0Z" transform="translate(143.75,46.00) scale(0.00898,-0.00859)" fill="#000" stroke="#000" stroke-width="17.5"/>
<line x1="53.8" y1="62.90" x2="95.4" y2="62.90" stroke="#000" stroke-width="2.2" stroke-dasharray="2.4,7.3"/>
<g transform="translate(100,62.8)" fill="none" stroke="#000" stroke-linecap="butt"><path d="M1.15,1.8 Q1.4,-0.4 2.9,-0.4 L7,-0.4" stroke-width="1.35"/><path d="M4.35,-0.5 L3.85,4.2 Q3.7,6.1 5.1,6.1 Q6.3,6.1 6.8,4.7" stroke-width="1.25"/></g>
<rect x="113.3" y="60.20" width="8.9" height="1.6"/><rect x="113.3" y="63.75" width="8.9" height="1.6"/>
<path d="M763 0H583V1147Q518 1085 412.5 1023T223 930V1104Q374 1175 487 1276T647 1472H763V0Z" transform="translate(128.40,68.90) scale(0.00898,-0.00859)" fill="#000" stroke="#000" stroke-width="17.5"/>
<line x1="53.8" y1="85.70" x2="95.4" y2="85.70" stroke="#0000ff" stroke-width="1.6" stroke-dasharray="7.2,2.35,2,2.35"/>
<g transform="translate(100,85.6)" fill="none" stroke="#000" stroke-linecap="butt"><path d="M1.15,1.8 Q1.4,-0.4 2.9,-0.4 L7,-0.4" stroke-width="1.35"/><path d="M4.35,-0.5 L3.85,4.2 Q3.7,6.1 5.1,6.1 Q6.3,6.1 6.8,4.7" stroke-width="1.25"/></g>
<rect x="113.3" y="83.00" width="8.9" height="1.6"/><rect x="113.3" y="86.55" width="8.9" height="1.6"/>
<path d="M763 0H583V1147Q518 1085 412.5 1023T223 930V1104Q374 1175 487 1276T647 1472H763V0Z" transform="translate(128.40,91.70) scale(0.00898,-0.00859)" fill="#000" stroke="#000" stroke-width="17.5"/>
<text transform="translate(138.63,91.70) scale(1.0455,1)" font-size="17.6" stroke="#000" stroke-width="0.15">0</text>
<line x1="53.8" y1="108.60" x2="96" y2="108.60" stroke="#800080" stroke-width="1.6"/>
<g transform="translate(100,108.5)" fill="none" stroke="#000" stroke-linecap="butt"><path d="M1.15,1.8 Q1.4,-0.4 2.9,-0.4 L7,-0.4" stroke-width="1.35"/><path d="M4.35,-0.5 L3.85,4.2 Q3.7,6.1 5.1,6.1 Q6.3,6.1 6.8,4.7" stroke-width="1.25"/></g>
<rect x="113.3" y="105.90" width="8.9" height="1.6"/><rect x="113.3" y="109.45" width="8.9" height="1.6"/>
<path d="M763 0H583V1147Q518 1085 412.5 1023T223 930V1104Q374 1175 487 1276T647 1472H763V0Z" transform="translate(128.40,114.60) scale(0.00898,-0.00859)" fill="#000" stroke="#000" stroke-width="17.5"/>
<text transform="translate(138.63,114.60) scale(1.0455,1)" font-size="17.6" stroke="#000" stroke-width="0.15">0</text>
<text transform="translate(148.87,114.60) scale(1.0455,1)" font-size="17.6" stroke="#000" stroke-width="0.15">0</text>
</svg></body></html>
